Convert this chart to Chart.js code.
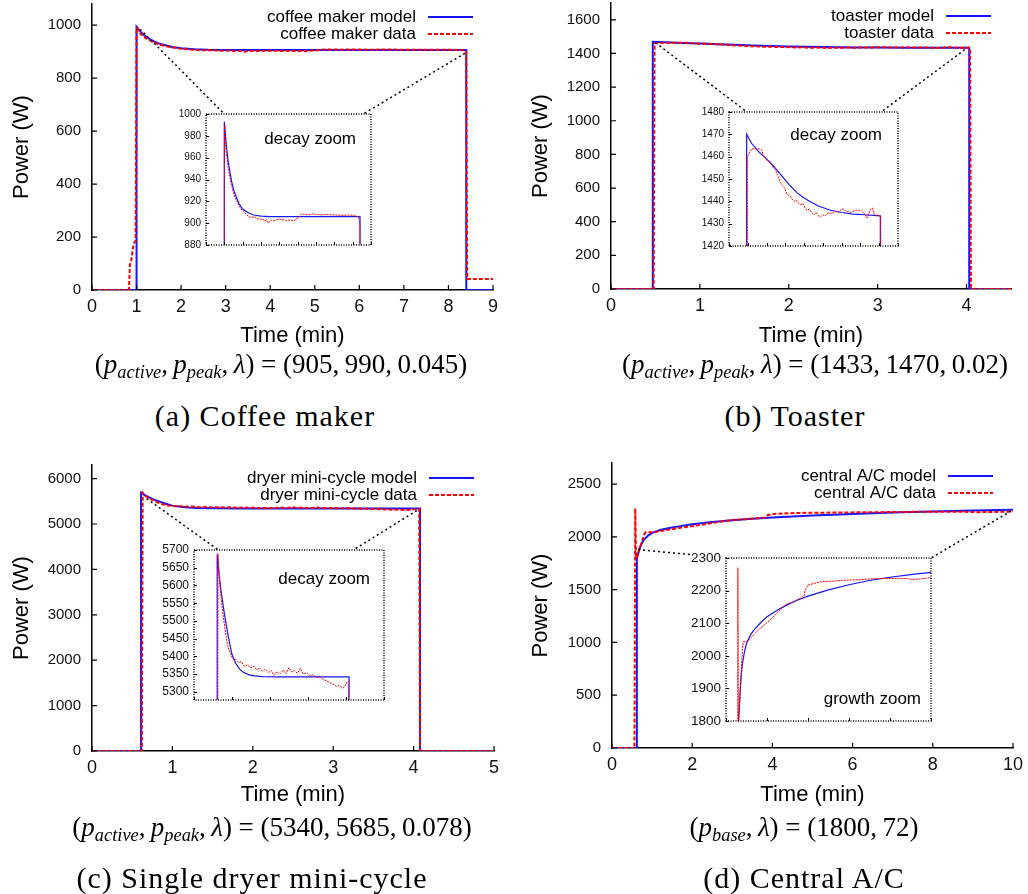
<!DOCTYPE html>
<html>
<head>
<meta charset="utf-8">
<script src="https://cdn.jsdelivr.net/npm/chart.js@4.4.1/dist/chart.umd.min.js"></script>
<style>
  body { margin: 0; background: #fff; }
  #fig { position: relative; width: 1028px; height: 894px; overflow: hidden; background: #fff; }
  #fig canvas { position: absolute; }
  .cap { position: absolute; transform: translate(-50%, -50%); white-space: nowrap;
         font-family: 'Liberation Serif', 'Times New Roman', serif; color: #000; line-height: 1; }
  .formula { font-size: 27px; }
  .formula sub { font-size: 68%; vertical-align: -0.32em; line-height: 0; }
  .caption { font-size: 30px; letter-spacing: 1px; }
</style>
</head>
<body>
<div id="fig"></div>
<script>
// (a) coffee maker
const coffeeModelT = [0, 1.0, 1.0, 1.05, 1.1, 1.15, 1.2, 1.3, 1.4, 1.5, 1.6, 1.8, 2.0, 2.3, 2.6, 3.0, 3.5, 4.5, 6.0, 7.5, 8.4, 8.4, 9];
const coffeeModelP = [0, 0, 993, 982, 973, 965, 958, 947, 938, 931, 926, 918, 913, 909.5, 907.5, 906.5, 906, 906, 906, 906, 906, 0, 0];
const coffeeDataT = [0, 0.83, 0.85, 0.88, 0.92, 0.95, 0.98, 1.0, 1.02, 1.06, 1.1, 1.15, 1.2, 1.28, 1.36, 1.45, 1.55,
  1.65, 1.75, 1.9, 2.05, 2.2, 2.35, 2.5, 2.65, 2.8, 2.95, 3.1, 3.2, 3.3, 3.4, 3.55, 3.7, 3.85, 4.0, 4.2, 4.4,
  4.6, 4.8, 4.95, 5.05, 5.2, 5.4, 5.6, 5.8, 6.0, 6.3, 6.6, 6.9, 7.2, 7.5, 7.8, 8.1, 8.3, 8.36, 8.4, 8.42, 8.44, 9];
const coffeeDataP = [0, 0, 95, 110, 160, 180, 185, 985, 990, 976, 966, 960, 952, 944, 937, 931, 925,
  921, 918, 913, 911, 908, 906, 905, 906, 904, 903.5, 904, 902, 903, 900, 903, 902.5, 903, 903.5, 903, 902.5,
  903, 902, 904, 905, 908.5, 908, 907.5, 908.5, 908, 907.5, 908, 907.5, 907.5, 907, 907.5, 907, 906, 903, 900, 42, 42, 42];
const coffeeXTicks = [0, 1, 2, 3, 4, 5, 6, 7, 8, 9];
const coffeeYTicks = [0, 200, 400, 600, 800, 1000];
const coffeeZoomXTicks = [0, 1, 2, 3, 4, 5, 6, 7, 8, 9];
const coffeeZoomYTicks = [880, 900, 920, 940, 960, 980, 1000];

// (b) toaster
const toasterModelT = [0, 0.47, 0.47, 0.6, 0.8, 1.0, 1.2, 1.4, 1.6, 1.8, 2.0, 2.2, 2.4, 2.7, 3.0, 3.3, 3.6, 4.03, 4.03, 4.5];
const toasterModelP = [0, 0, 1470, 1466, 1462, 1459, 1455.5, 1451.5, 1447.5, 1444, 1441.5, 1439.5, 1437.8, 1436, 1435, 1434.3, 1434, 1433.5, 0, 0];
const toasterDataT = [0, 0.48, 0.49, 0.52, 0.6, 0.7, 0.8, 0.87, 0.93, 1.0, 1.06, 1.11, 1.18, 1.24, 1.29, 1.33, 1.37, 1.42, 1.48, 1.55,
  1.62, 1.68, 1.73, 1.8, 1.86, 1.91, 1.97, 2.03, 2.08, 2.14, 2.2, 2.26, 2.32, 2.38, 2.44, 2.5, 2.56, 2.61, 2.67, 2.73,
  2.79, 2.85, 2.92, 2.99, 3.06, 3.12, 3.18, 3.24, 3.3, 3.37, 3.44, 3.51, 3.57, 3.63, 3.68, 3.72, 3.77, 3.82, 3.87, 3.91,
  3.95, 4.0, 4.04, 4.05, 4.5];
const toasterDataP = [0, 0, 1460, 1461, 1463.5, 1463.5, 1463.5, 1463, 1460, 1458.5, 1458, 1457.5, 1455, 1454, 1452, 1450, 1448.5, 1447, 1446, 1443,
  1442.5, 1441, 1440, 1440.5, 1439, 1438.5, 1439, 1437, 1436, 1436.5, 1435, 1434, 1435, 1433.5, 1433, 1434, 1433.5, 1434.5, 1435, 1434.5,
  1435, 1435.5, 1435, 1436.5, 1436.5, 1435.5, 1435.5, 1435, 1435.5, 1436, 1436, 1436, 1435, 1434, 1432.5, 1434.5, 1436.5, 1437, 1434, 1433.5,
  1434, 1433.5, 1433.5, 0, 0];
const toasterXTicks = [0, 1, 2, 3, 4];
const toasterYTicks = [0, 200, 400, 600, 800, 1000, 1200, 1400, 1600];
const toasterZoomXTicks = [0, 0.5, 1, 1.5, 2, 2.5, 3, 3.5, 4, 4.5];
const toasterZoomYTicks = [1420, 1430, 1440, 1450, 1460, 1470, 1480];

// (c) dryer mini-cycle
const dryerModelT = [0, 0.61, 0.61, 0.65, 0.7, 0.75, 0.8, 0.85, 0.9, 0.95, 1.0, 1.1, 1.2, 1.3, 1.45, 1.6, 1.8, 2.2, 4.08, 4.08, 5];
const dryerModelP = [0, 0, 5688, 5640, 5595, 5555, 5520, 5488, 5458, 5430, 5405, 5380, 5364, 5355, 5348, 5345, 5343, 5342, 5342, 0, 0];
const dryerDataT = [0, 0.62, 0.63, 0.68, 0.72, 0.77, 0.82, 0.86, 0.9, 0.95, 1.0, 1.05, 1.1, 1.18, 1.25, 1.32, 1.4, 1.5, 1.58, 1.65,
  1.72, 1.8, 1.88, 1.96, 2.04, 2.1, 2.18, 2.26, 2.35, 2.42, 2.5, 2.57, 2.64, 2.72, 2.8, 2.88, 2.96, 3.05, 3.14, 3.23,
  3.32, 3.42, 3.5, 3.58, 3.66, 3.75, 3.82, 3.9, 3.97, 4.03, 4.07, 4.08, 5];
const dryerDataP = [0, 0, 5690, 5600, 5560, 5512, 5475, 5446, 5425, 5410, 5398, 5390, 5392, 5382, 5385, 5372, 5376, 5368, 5372, 5362,
  5368, 5358, 5364, 5355, 5360, 5346, 5357, 5350, 5362, 5352, 5368, 5356, 5360, 5352, 5366, 5350, 5354, 5345, 5348, 5340,
  5342, 5334, 5330, 5326, 5322, 5315, 5318, 5310, 5316, 5328, 5330, 0, 0];
const dryerXTicks = [0, 1, 2, 3, 4, 5];
const dryerYTicks = [0, 1000, 2000, 3000, 4000, 5000, 6000];
const dryerZoomXTicks = [0, 1, 2, 3, 4, 5];
const dryerZoomYTicks = [5300, 5350, 5400, 5450, 5500, 5550, 5600, 5650, 5700];

// (d) central A/C
const acModelT = [0, 0.6, 0.62, 0.65, 0.7, 0.75, 0.8, 0.9, 1.0, 1.2, 1.4, 1.7, 2.0, 2.5, 3.0, 3.5, 4.0, 5.0, 6.0, 7.0, 8.0, 9.0, 10.0];
const acModelP = [0, 0, 1800, 1840, 1900, 1945, 1975, 2012, 2038, 2065, 2082, 2102, 2120, 2140, 2157, 2171, 2183, 2202, 2218, 2231, 2241, 2249, 2256];
const acDataT = [0, 0.56, 0.58, 0.6, 0.62, 0.7, 0.8, 0.84, 1.09, 1.15, 1.26, 1.45, 1.66, 1.9, 2.15, 2.4, 2.63, 2.96, 3.2, 3.45,
  3.69, 3.8, 3.88, 4.0, 4.3, 4.6, 5.2, 5.9, 6.6, 7.5, 8.2, 8.8, 9.1, 9.5, 10];
const acDataP = [0, 0, 2270, 1800, 1810, 1900, 2020, 2043, 2045, 2052, 2059, 2070, 2084, 2096, 2110, 2125, 2140, 2159, 2164, 2171,
  2179, 2183, 2205, 2217, 2222, 2227, 2229, 2232, 2234, 2237, 2237, 2237, 2234, 2236, 2240];
const acXTicks = [0, 2, 4, 6, 8, 10];
const acYTicks = [0, 500, 1000, 1500, 2000, 2500];
const acZoomXTicks = [0, 2, 4, 6, 8, 10];
const acZoomYTicks = [1800, 1900, 2000, 2100, 2200, 2300];

const BLUE = 'rgb(20,20,255)';
const RED = 'rgb(255,0,0)';
const SANS = "'Liberation Sans', Arial, Helvetica, sans-serif";
Chart.defaults.font.family = SANS;
Chart.defaults.color = '#111';

// layout of the four panels (page pixels) -- box = canvas, area = plot area
const panels = [
  { box: [0, 0, 514, 354], area: [92, 4, 493, 290], xMax: 9, yMax: 1080, yTitlePad: 9,
    xTicks: coffeeXTicks, yTicks: coffeeYTicks,
    names: ['coffee maker model', 'coffee maker data'], model: [coffeeModelT, coffeeModelP], data: [coffeeDataT, coffeeDataP],
    inset: { area: [206, 114, 371, 245], yMin: 880, yMax: 1000, xTicks: coffeeZoomXTicks, yTicks: coffeeZoomYTicks,
             font: 10, text: 'decay zoom', textAt: [356, 139] },
    zoomFrom: [[1.08, 985], [8.37, 894]], zoomTo: [[1.0, 1000], [8.58, 1000]],
    formula: '(<i>p</i><sub><i>active</i></sub>,&#8201;<i>p</i><sub><i>peak</i></sub>,&#8201;<i>λ</i>) = (905,&#8201;990,&#8201;0.045)',
    caption: '(a) Coffee maker', formulaAt: [281, 364], captionAt: [265, 416] },
  { box: [514, 0, 514, 354], area: [611, 3, 1011, 289], xMax: 4.5, yMax: 1700, yTitlePad: 14,
    xTicks: toasterXTicks, yTicks: toasterYTicks,
    names: ['toaster model', 'toaster data'], model: [toasterModelT, toasterModelP], data: [toasterDataT, toasterDataP],
    inset: { area: [729, 112, 898, 246], yMin: 1420, yMax: 1480, xTicks: toasterZoomXTicks, yTicks: toasterZoomYTicks,
             font: 10, text: 'decay zoom', textAt: [882, 135] },
    zoomFrom: [[0.5, 1464], [3.98, 1423]], zoomTo: [[0.48, 1480], [4.05, 1480]],
    formula: '(<i>p</i><sub><i>active</i></sub>,&#8201;<i>p</i><sub><i>peak</i></sub>,&#8201;<i>λ</i>) = (1433,&#8201;1470,&#8201;0.02)',
    caption: '(b) Toaster', formulaAt: [815, 364], captionAt: [795, 416] },
  { box: [0, 450, 514, 363], area: [92, 465, 494, 751], xMax: 5, yMax: 6300, yTitlePad: 9,
    xTicks: dryerXTicks, yTicks: dryerYTicks,
    names: ['dryer mini-cycle model', 'dryer mini-cycle data'], model: [dryerModelT, dryerModelP], data: [dryerDataT, dryerDataP],
    inset: { area: [194, 550, 384, 700], yMin: 5277, yMax: 5700, xTicks: dryerZoomXTicks, yTicks: dryerZoomYTicks,
             font: 12, text: 'decay zoom', textAt: [370, 579] },
    zoomFrom: [[0.68, 5560], [4.04, 5297]], zoomTo: [[0.64, 5700], [4.19, 5700]],
    formula: '(<i>p</i><sub><i>active</i></sub>,&#8201;<i>p</i><sub><i>peak</i></sub>,&#8201;<i>λ</i>) = (5340,&#8201;5685,&#8201;0.078)',
    caption: '(c) Single dryer mini-cycle', formulaAt: [272, 827], captionAt: [252, 878] },
  { box: [514, 450, 514, 363], area: [612, 463, 1013, 748], xMax: 10, yMax: 2700, yTitlePad: 14,
    xTicks: acXTicks, yTicks: acYTicks,
    names: ['central A/C model', 'central A/C data'], model: [acModelT, acModelP], data: [acDataT, acDataP],
    inset: { area: [726, 558, 931, 721], yMin: 1800, yMax: 2300, xTicks: acZoomXTicks, yTicks: acZoomYTicks,
             font: 13.5, text: 'growth zoom', textAt: [921, 699] },
    zoomFrom: [[0.65, 1880], [9.95, 2245]], zoomTo: [[0, 2300], [10, 2300]],
    formula: '(<i>p</i><sub><i>base</i></sub>,&#8201;<i>λ</i>) = (1800,&#8201;72)',
    caption: '(d) Central A/C', formulaAt: [804, 827], captionAt: [804, 878] }
];

const fig = document.getElementById('fig');
function addCanvas(b) {
  const c = document.createElement('canvas');
  c.width = b[2]; c.height = b[3];
  c.style.left = b[0] + 'px'; c.style.top = b[1] + 'px';
  c.style.width = b[2] + 'px'; c.style.height = b[3] + 'px';
  fig.appendChild(c);
  return c;
}
function addText(cls, html, at) {
  const d = document.createElement('div');
  d.className = 'cap ' + cls;
  d.innerHTML = html;
  d.style.left = at[0] + 'px'; d.style.top = at[1] + 'px';
  fig.appendChild(d);
}
function pts(series) { return series[0].map((t, i) => ({ x: t, y: series[1][i] })); }
const plain = v => String(v);
function noPad(s) { s.paddingTop = 0; s.paddingBottom = 0; s.paddingLeft = 0; s.paddingRight = 0; }
const useTicks = list => s => { s.ticks = list.map(v => ({ value: v })); };

function makeInset(p, canvas, box) {
  const s = p.inset;
  const deco = {
    id: 'insetDeco',
    beforeDraw(chart) {
      const { ctx, chartArea: a } = chart;
      ctx.save();
      ctx.fillStyle = '#fff';
      ctx.fillRect(0, a.top - 7, a.left, a.bottom - a.top + 8);
      ctx.fillRect(a.left, a.top, a.right - a.left, a.bottom - a.top);
      ctx.restore();
    },
    afterDraw(chart) {
      const { ctx, chartArea: a, scales } = chart;
      ctx.save();
      ctx.strokeStyle = '#000';
      ctx.lineWidth = 1;
      ctx.beginPath();
      scales.y.ticks.forEach(t => {
        const y = Math.round(scales.y.getPixelForValue(t.value)) + 0.5;
        ctx.moveTo(a.left, y); ctx.lineTo(a.left + 3, y);
      });
      scales.x.ticks.forEach(t => {
        const x = Math.round(scales.x.getPixelForValue(t.value)) + 0.5;
        ctx.moveTo(x, a.bottom); ctx.lineTo(x, a.bottom - 3);
      });
      ctx.stroke();
      ctx.setLineDash([1, 1.5]);
      ctx.lineWidth = 1.5;
      ctx.strokeRect(a.left, a.top, a.right - a.left, a.bottom - a.top);
      ctx.setLineDash([]);
      ctx.fillStyle = '#000';
      ctx.font = '17px ' + SANS;
      ctx.textAlign = 'right';
      ctx.textBaseline = 'middle';
      ctx.fillText(s.text, s.textAt[0] - box[0], s.textAt[1] - box[1]);
      ctx.restore();
    }
  };
  return new Chart(canvas, {
    type: 'line',
    data: { datasets: [
      { label: p.names[0], data: pts(p.model), borderColor: BLUE, borderWidth: 1.2, pointRadius: 0, order: 2 },
      { label: p.names[1], data: pts(p.data), borderColor: RED, borderWidth: 1, borderDash: [2, 1], pointRadius: 0, order: 1 }
    ] },
    options: {
      responsive: false, animation: false, events: [],
      layout: { padding: { top: 8, right: 4, left: 0, bottom: 0 } },
      plugins: { legend: { display: false }, tooltip: { enabled: false } },
      scales: {
        x: { type: 'linear', min: 0, max: p.xMax,
             ticks: { display: false },
             grid: { display: false, drawTicks: false }, border: { display: false },
             afterBuildTicks: useTicks(s.xTicks),
             afterFit: a => { a.height = 4; noPad(a); } },
        y: { type: 'linear', min: s.yMin, max: s.yMax,
             ticks: { padding: 5, font: { size: s.font }, color: '#111', callback: plain },
             grid: { display: false, drawTicks: false }, border: { display: false },
             afterBuildTicks: useTicks(s.yTicks),
             afterFit: a => { a.width = 36; noPad(a); } }
      }
    },
    plugins: [deco]
  });
}

function makeMain(p, canvas, inset, ibox) {
  const [bx, by, bw, bh] = p.box;
  const [al, at, ar, ab] = p.area;
  const deco = {
    id: 'mainDeco',
    afterDraw(chart) {
      const { ctx, chartArea: a, scales: { x, y } } = chart;
      ctx.save();
      // inward tick marks
      ctx.strokeStyle = '#000';
      ctx.lineWidth = 1.2;
      ctx.beginPath();
      x.ticks.forEach(t => { const px = x.getPixelForValue(t.value); ctx.moveTo(px, a.bottom); ctx.lineTo(px, a.bottom - 5); });
      y.ticks.forEach(t => { const py = y.getPixelForValue(t.value); ctx.moveTo(a.left, py); ctx.lineTo(a.left + 5, py); });
      ctx.stroke();
      // dotted lines toward the zoom box
      ctx.setLineDash([2, 3]);
      ctx.lineWidth = 1.5;
      ctx.beginPath();
      p.zoomFrom.forEach((f, k) => {
        const to = p.zoomTo[k];
        const tx = inset.scales.x.getPixelForValue(to[0]) + ibox[0] - bx;
        const ty = inset.scales.y.getPixelForValue(to[1]) + ibox[1] - by;
        ctx.moveTo(x.getPixelForValue(f[0]), y.getPixelForValue(f[1]));
        ctx.lineTo(tx, ty);
      });
      ctx.stroke();
      // legend, text right-aligned with line sample after it
      ctx.font = '17px ' + SANS;
      ctx.textAlign = 'right';
      ctx.textBaseline = 'middle';
      chart.data.datasets.forEach((ds, k) => {
        const yy = a.top + 13 + 17 * k;
        ctx.setLineDash([]);
        ctx.fillStyle = '#000';
        ctx.fillText(ds.label, a.right - 77, yy);
        ctx.strokeStyle = ds.borderColor;
        ctx.lineWidth = 2;
        ctx.setLineDash(ds.borderDash || []);
        ctx.beginPath();
        ctx.moveTo(a.right - 65, yy); ctx.lineTo(a.right - 20, yy);
        ctx.stroke();
      });
      ctx.restore();
    }
  };
  return new Chart(canvas, {
    type: 'line',
    data: { datasets: [
      { label: p.names[0], data: pts(p.model), borderColor: BLUE, borderWidth: 2, pointRadius: 0, order: 2 },
      { label: p.names[1], data: pts(p.data), borderColor: RED, borderWidth: 2, borderDash: [4, 2], pointRadius: 0, order: 1 }
    ] },
    options: {
      responsive: false, animation: false, events: [],
      layout: { padding: { top: at - by, right: bx + bw - ar, left: 0, bottom: 0 } },
      plugins: { legend: { display: false }, tooltip: { enabled: false } },
      scales: {
        x: { type: 'linear', min: 0, max: p.xMax,
             ticks: { padding: 6, font: { size: 18 }, color: '#111', maxRotation: 0, autoSkip: false, callback: plain },
             grid: { display: false, drawTicks: false }, border: { display: true, color: '#000', width: 1.5 },
             title: { display: true, text: 'Time (min)', font: { size: 22 }, color: '#000', padding: { top: 0, bottom: 5 } },
             afterBuildTicks: useTicks(p.xTicks),
             afterFit: s => { s.height = by + bh - ab; noPad(s); } },
        y: { type: 'linear', min: 0, max: p.yMax,
             ticks: { padding: 11, font: { size: 15 }, color: '#111', autoSkip: false, callback: plain },
             grid: { display: false, drawTicks: false }, border: { display: true, color: '#000', width: 1.5 },
             title: { display: true, text: 'Power (W)', font: { size: 22 }, color: '#000', padding: { top: p.yTitlePad, bottom: 0 } },
             afterBuildTicks: useTicks(p.yTicks),
             afterFit: s => { s.width = al - bx; noPad(s); } }
      }
    },
    plugins: [deco]
  });
}

const insetBoxes = panels.map(p => {
  const a = p.inset.area;
  return [a[0] - 36, a[1] - 8, a[2] - a[0] + 40, a[3] - a[1] + 12];
});
const mainCanvases = panels.map(p => addCanvas(p.box));
const insetCanvases = insetBoxes.map(b => addCanvas(b));

panels.forEach((p, i) => {
  const inset = makeInset(p, insetCanvases[i], insetBoxes[i]);
  makeMain(p, mainCanvases[i], inset, insetBoxes[i]);
  addText('formula', p.formula, p.formulaAt);
  addText('caption', p.caption, p.captionAt);
});
</script>
</body>
</html>
